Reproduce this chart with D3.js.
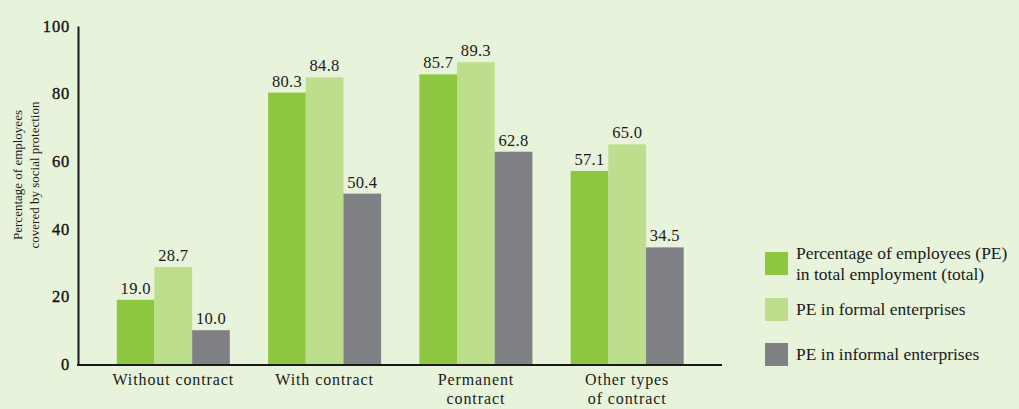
<!DOCTYPE html>
<html><head><meta charset="utf-8">
<script src="https://cdn.jsdelivr.net/npm/d3@7"></script>
<style>
html,body{margin:0;padding:0;background:#e7f3da;}
svg{display:block;font-family:"Liberation Serif","Times New Roman",serif;}
</style></head>
<body>
<svg id="chart" width="1019" height="409"></svg>
<script>
const categories = [["Without contract"], ["With contract"], ["Permanent", "contract"], ["Other types", "of contract"]];
const seriesNames = [["Percentage of employees (PE)", "in total employment (total)"], ["PE in formal enterprises"], ["PE in informal enterprises"]];
const totalValues = [19.0, 80.3, 85.7, 57.1];
const formalValues = [28.7, 84.8, 89.3, 65.0];
const informalValues = [10.0, 50.4, 62.8, 34.5];
const yTicks = [0, 20, 40, 60, 80, 100];
const colors = ["#8dc63f", "#bcde8d", "#808184"];

const svg = d3.select("#chart");
const series = [totalValues, formalValues, informalValues];

const y = d3.scaleLinear().domain([0, 100]).range([364, 26]);
const x0 = d3.scaleBand().domain(d3.range(categories.length)).range([79, 721.5]).paddingInner(0.253).paddingOuter(0.25);
const x1 = d3.scaleBand().domain(d3.range(series.length)).range([0, x0.bandwidth()]);

// bars
series.forEach((vals, s) => {
  svg.append("g").selectAll("rect").data(vals).join("rect")
    .attr("x", (d, i) => x0(i) + x1(s))
    .attr("y", d => y(d))
    .attr("width", x1.bandwidth())
    .attr("height", d => y(0) - y(d))
    .attr("fill", colors[s]);
  svg.append("g").selectAll("text").data(vals).join("text")
    .attr("x", (d, i) => x0(i) + x1(s) + x1.bandwidth() / 2)
    .attr("y", d => y(d) - 6)
    .attr("text-anchor", "middle")
    .attr("font-size", 16.5)
    .attr("letter-spacing", 0.3)
    .attr("fill", "#1a1a1a")
    .text(d => d.toFixed(1));
});

// y axis
const yAxis = d3.axisLeft(y).tickValues(yTicks).tickSize(0).tickPadding(8);
const gy = svg.append("g").attr("transform", "translate(78,0)").call(yAxis);
gy.select(".domain").attr("stroke", "#1a1a1a").attr("stroke-width", 2);
gy.selectAll("text").attr("font-size", 16.5).attr("font-family", "Liberation Serif, serif").attr("fill", "#111").attr("letter-spacing", 0.8).attr("stroke", "#111").attr("stroke-width", 0.35);

// x axis line
svg.append("line").attr("x1", 77).attr("x2", 722).attr("y1", y(0) + 1).attr("y2", y(0) + 1)
  .attr("stroke", "#1a1a1a").attr("stroke-width", 2);

// category labels
categories.forEach((lines, i) => {
  const cx = x0(i) + x0.bandwidth() / 2;
  const t = svg.append("text")
    .attr("x", cx)
    .attr("y", 385)
    .attr("text-anchor", "middle")
    .attr("font-size", 16)
    .attr("letter-spacing", 0.9)
    .attr("fill", "#1a1a1a");
  lines.forEach((l, j) => t.append("tspan").attr("x", cx).attr("dy", j === 0 ? 0 : 18.5).text(l));
});

// y axis title
const yt = svg.append("text").attr("transform", "translate(22,175) rotate(-90)")
  .attr("text-anchor", "middle").attr("font-size", 13).attr("fill", "#1a1a1a");
yt.append("tspan").attr("x", 0).attr("dy", 0).text("Percentage of employees");
yt.append("tspan").attr("x", 0).attr("dy", 17).text("covered by social protection");

// legend
const legendY = [252, 298, 343];
seriesNames.forEach((lines, i) => {
  svg.append("rect").attr("x", 765).attr("y", legendY[i]).attr("width", 23).attr("height", 23).attr("fill", colors[i]);
  const t = svg.append("text").attr("x", 796).attr("font-size", 17.5).attr("fill", "#1a1a1a");
  if (lines.length === 2) {
    t.attr("y", legendY[i] + 7);
    lines.forEach((l, j) => t.append("tspan").attr("x", 796).attr("dy", j === 0 ? 0 : 21).text(l));
  } else {
    t.attr("y", legendY[i] + 17).text(lines[0]);
  }
});
</script>
</body></html>
